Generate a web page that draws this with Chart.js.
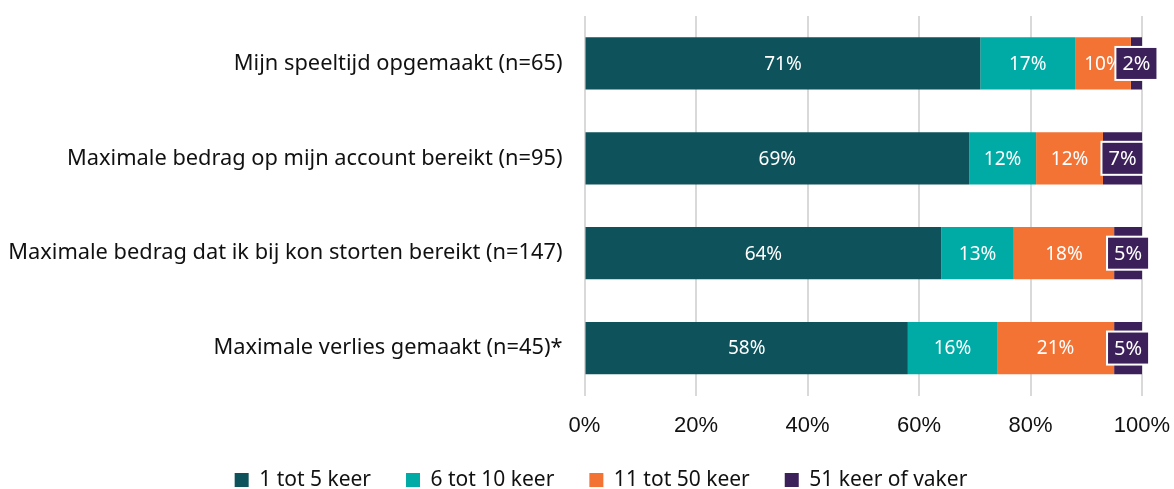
<!DOCTYPE html>
<html>
<head>
<meta charset="utf-8">
<script src="https://cdn.jsdelivr.net/npm/chart.js@4/dist/chart.umd.min.js"></script>
<style>
  html, body { margin: 0; padding: 0; background: #fff; }
  #wrap { width: 1174px; height: 489px; }
</style>
</head>
<body>
<div id="wrap"><canvas id="myChart" width="1174" height="489"></canvas></div>
<script>
const categories = [
  'Mijn speeltijd opgemaakt (n=65)',
  'Maximale bedrag op mijn account bereikt (n=95)',
  'Maximale bedrag dat ik bij kon storten bereikt (n=147)',
  'Maximale verlies gemaakt (n=45)*'
];
const keer1tot5 = [71, 69, 64, 58];
const keer6tot10 = [17, 12, 13, 16];
const keer11tot50 = [10, 12, 18, 21];
const keer51plus = [2, 7, 5, 5];
const xTicks = ['0%', '20%', '40%', '60%', '80%', '100%'];

const labelFont = '"Noto Sans", sans-serif';

// draws the % labels inside the bars, the last series gets a boxed label
const segmentLabels = {
  id: 'segmentLabels',
  beforeUpdate(chart) {
    // fixed legend height so the axis area stays put
    const lg = chart.legend;
    if (lg && !lg._fixed) {
      const fit = lg.fit;
      lg.fit = function () { fit.call(this); this.height = 54.5; };
      lg._fixed = true;
    }
  },
  afterLayout(chart) {
    // legend sits a bit right of the canvas centre
    if (chart.legend) {
      chart.legend.left += 30;
      chart.legend.right += 30;
    }
  },
  afterDatasetsDraw(chart) {
    const ctx = chart.ctx;
    ctx.save();
    chart.data.datasets.forEach((ds, di) => {
      const meta = chart.getDatasetMeta(di);
      meta.data.forEach((bar, i) => {
        const text = ds.data[i] + '%';
        const x = (bar.x + bar.base) / 2;
        const y = bar.y;
        ctx.textAlign = 'center';
        ctx.textBaseline = 'middle';
        if (di === 3) {
          ctx.font = '20px ' + labelFont;
          const w = ctx.measureText(text).width + 14;
          const h = 33;
          ctx.fillStyle = ds.backgroundColor;
          ctx.fillRect(x - w / 2, y - h / 2, w, h);
          ctx.strokeStyle = '#ffffff';
          ctx.lineWidth = 2;
          ctx.strokeRect(x - w / 2, y - h / 2, w, h);
          ctx.fillStyle = '#ffffff';
          ctx.fillText(text, x, y + 1);
        } else {
          ctx.font = '19px ' + labelFont;
          ctx.fillStyle = '#ffffff';
          ctx.fillText(text, x, y + 1);
        }
      });
    });
    ctx.restore();
  }
};

const ctx = document.getElementById('myChart').getContext('2d');

const myChart = new Chart(ctx, {
  type: 'bar',
  data: {
    labels: categories,
    datasets: [{
      label: '1 tot 5 keer',
      data: keer1tot5,
      backgroundColor: '#0E535B'
    }, {
      label: '6 tot 10 keer',
      data: keer6tot10,
      backgroundColor: '#00AAA5'
    }, {
      label: '11 tot 50 keer',
      data: keer11tot50,
      backgroundColor: '#F37335'
    }, {
      label: '51 keer of vaker',
      data: keer51plus,
      backgroundColor: '#3C205A'
    }]
  },
  options: {
    indexAxis: 'y',
    responsive: false,
    animation: false,
    devicePixelRatio: 1,
    categoryPercentage: 1,
    barPercentage: 0.55,
    layout: { padding: { top: 16, right: 32, bottom: 0, left: 0 } },
    scales: {
      x: {
        stacked: true,
        min: 0,
        max: 100,
        ticks: {
          stepSize: 20,
          padding: 17,
          color: '#111',
          font: { family: '"Liberation Sans", Arial, sans-serif', size: 22 },
          callback: (v, i) => xTicks[i]
        },
        grid: { color: '#d9d9d9', lineWidth: 2, drawTicks: false },
        border: { display: false },
        afterFit: (scale) => {
          scale.height = 39;
          scale.paddingLeft = 0;
          scale.paddingRight = 0;
        }
      },
      y: {
        stacked: true,
        ticks: {
          padding: 22,
          color: '#111',
          font: { family: labelFont, size: 21.8 }
        },
        grid: { display: false, drawTicks: false },
        border: { display: false },
        afterFit: (scale) => {
          scale.width = 584.5;
          scale.paddingTop = 0;
          scale.paddingBottom = 0;
        }
      }
    },
    plugins: {
      legend: {
        position: 'bottom',
        labels: {
          boxWidth: 14,
          boxHeight: 14,
          padding: 35,
          color: '#111',
          font: { family: labelFont, size: 21 }
        }
      },
      tooltip: { enabled: false }
    }
  },
  plugins: [segmentLabels]
});
</script>
</body>
</html>
